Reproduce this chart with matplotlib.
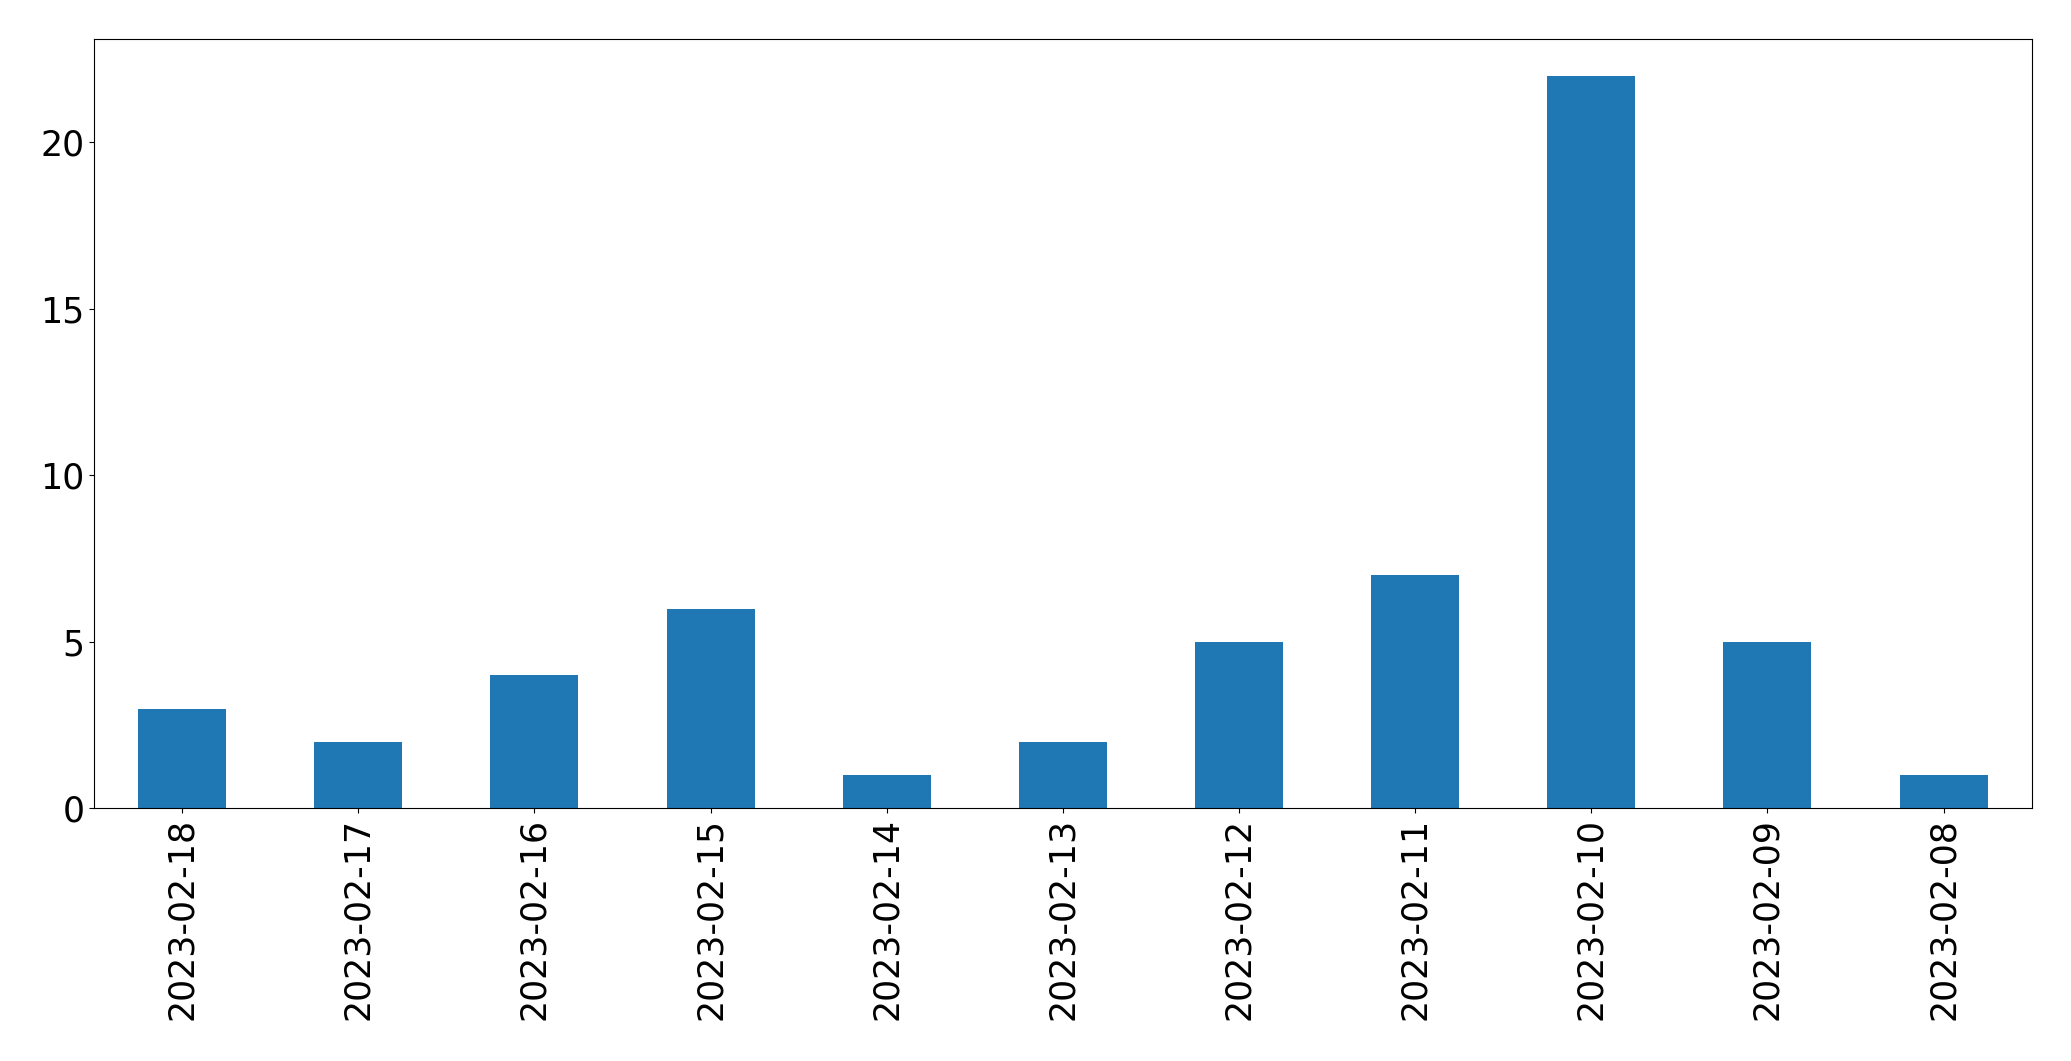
import matplotlib
matplotlib.use('Agg')
import matplotlib.pyplot as plt
import numpy as np

dates = ['2023-02-18', '2023-02-17', '2023-02-16', '2023-02-15', '2023-02-14',
         '2023-02-13', '2023-02-12', '2023-02-11', '2023-02-10', '2023-02-09',
         '2023-02-08']
counts = [3, 2, 4, 6, 1, 2, 5, 7, 22, 5, 1]

fig, ax = plt.subplots(figsize=(20.71, 10.61), dpi=100)
fig.subplots_adjust(left=0.0454, right=0.981, top=0.963, bottom=0.238)

x = np.arange(len(dates))
ax.bar(x, counts, width=0.5, color='#1f77b4')
ax.set_xlim(-0.5, len(dates) - 0.5)
ax.set_xticks(x)
ax.set_xticklabels(dates, rotation=90)
ax.tick_params(labelsize=25)

plt.savefig('out.png', dpi=100)
